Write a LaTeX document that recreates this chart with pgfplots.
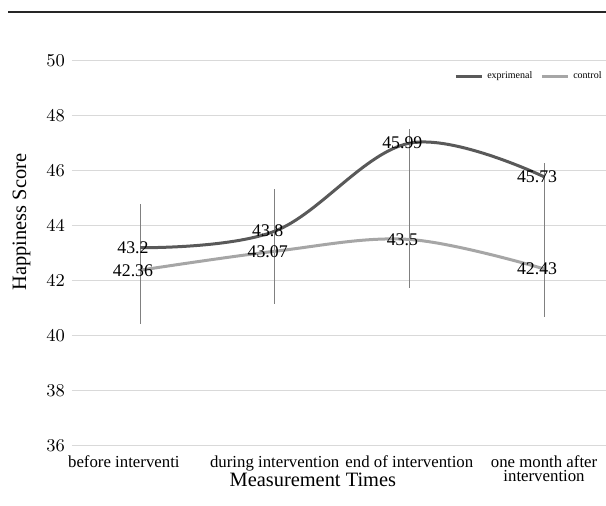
\documentclass[border=0pt]{standalone}
\usepackage{pgfplots}
\pgfplotsset{compat=1.18}
\usepackage{pgfplotstable}
\usepackage{fontspec}
\setmainfont{Liberation Serif}

\definecolor{expline}{HTML}{595959}
\definecolor{ctrlline}{HTML}{A6A6A6}
\definecolor{gridgray}{HTML}{D9D9D9}
\definecolor{errgray}{HTML}{808080}

% x = measurement time index, y = plotted score, lab = data label
\pgfplotstableread{
x  y      lab
0  43.20  43.2
1  43.80  43.8
2  47.00  45.99
3  45.78  45.73
}\exprdata
\pgfplotstableread{
x  y      lab
0  42.38  42.36
1  43.07  43.07
2  43.50  43.5
3  42.43  42.43
}\ctrldata
% vertical range lines: centre and half length
\pgfplotstableread{
x  c       e
0  42.62   2.18
1  43.24   2.09
2  44.62   2.88
3  43.48   2.80
}\rangedata

\begin{document}
\begin{tikzpicture}
\begin{axis}[
  scale only axis,
  width=267pt, height=192.5pt,
  xmin=-0.505, xmax=3.46,
  ymin=36, ymax=50,
  ytick={36,38,...,50},
  xtick={-0.12,1,2,3},
  xticklabels={before interventi,during intervention,end of intervention,{one month after\\intervention}},
  axis line style={draw=none},
  major tick length=0pt,
  ymajorgrids=true,
  grid style={gridgray, line width=0.7pt},
  tick label style={font=\fontsize{9.5}{10}\selectfont},
  yticklabel style={font=\fontsize{9.5}{10}\selectfont},
  xticklabel style={font=\fontsize{8.4}{7}\selectfont, align=center, inner sep=0pt, yshift=-5pt},
  xlabel={Measurement Times},
  ylabel={Happiness Score},
  xlabel style={font=\fontsize{10.2}{12}\selectfont, at={(axis description cs:0.451,-0.1065)}, anchor=base},
  ylabel style={font=\fontsize{10.2}{12}\selectfont, at={(axis description cs:-0.0861,0.581)}, anchor=base},
  legend columns=2,
  legend style={at={(axis description cs:1,0.958)}, anchor=east, draw=none, fill=none,
    font=\fontsize{5}{6}\selectfont, inner sep=0pt,
    /tikz/every even column/.append style={column sep=2pt}},
  legend image code/.code={\draw[#1, line width=1.5pt] (0pt,0pt) -- (13pt,0pt);},
  clip=false,
]
\addplot[draw=none, forget plot, error bars/.cd, y dir=both, y explicit, error mark=none,
  error bar style={errgray, line width=0.5pt}]
  table[x=x, y=c, y error=e] {\rangedata};

\addplot[expline, line width=1.5pt, smooth, tension=0.6,
  nodes near coords, point meta=explicit symbolic,
  every node near coord/.append style={anchor=center, xshift=-3.5pt, text=black,
    font=\fontsize{8.9}{10}\selectfont}]
  table[x=x, y=y, meta=lab] {\exprdata};
\addlegendentry{exprimenal}

\addplot[ctrlline, line width=1.5pt, smooth, tension=0.6,
  nodes near coords, point meta=explicit symbolic,
  every node near coord/.append style={anchor=center, xshift=-3.5pt, text=black,
    font=\fontsize{8.9}{10}\selectfont}]
  table[x=x, y=y, meta=lab] {\ctrldata};
\addlegendentry{control}
\end{axis}
\draw[line width=1pt, black!85] (-32pt,216.85pt) -- (267pt,216.85pt);
\pgfresetboundingbox
\path (-36pt,-29.65pt) rectangle (267pt,222.85pt);
\end{tikzpicture}
\end{document}
